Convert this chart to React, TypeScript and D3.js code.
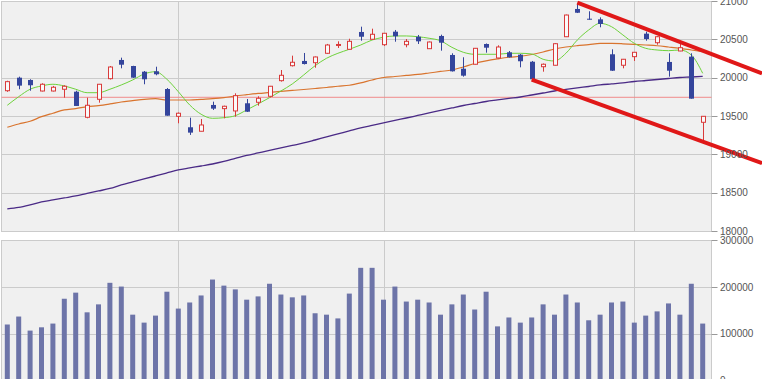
import React from "react";
import * as d3 from "d3";

const W = 762;
const H = 379;

// OHLC per trading day (62 days)
const opens = [19830,20000,19970,19826,19826,19849,19817,19483,19718,19987,20231,20152,20078,20083,19852,19496,19353,19301,19644,19596,19566,19666,19679,19757,19961,20156,20218,20195,20318,20428,20370,20596,20501,20430,20600,20430,20534,20378,20544,20296,20117,20175,20439,20257,20331,20300,20208,20143,20162,20534,20896,20769,20761,20305,20162,20274,20574,20456,20205,20348,20274,19418];
const highs = [19960,20013,19979,19927,19892,19901,19830,19739,19918,20152,20261,20155,20087,20143,19865,19546,19478,19461,19687,19635,19796,19722,19757,19892,20100,20287,20322,20276,20440,20474,20508,20665,20639,20583,20622,20504,20557,20472,20561,20318,20266,20387,20446,20422,20348,20309,20218,20185,20452,20823,20970,20866,20787,20370,20244,20335,20600,20544,20318,20439,20318,19500];
const lows = [19815,19849,19830,19820,19820,19739,19631,19470,19674,19976,20122,19998,19914,20031,19504,19405,19253,19301,19579,19470,19491,19552,19635,19744,19948,20146,20172,20130,20309,20387,20367,20482,20498,20413,20469,20396,20439,20374,20352,20080,20013,20172,20326,20250,20262,20135,19975,20078,20159,20530,20843,20757,20657,20087,20122,20218,20482,20430,20013,20345,19726,19135];
const closes = [19948,19896,19901,19914,19875,19888,19631,19640,19914,20139,20169,20000,19979,20044,19504,19536,19283,19383,19596,19627,19765,19556,19731,19888,20031,20201,20178,20270,20426,20433,20474,20534,20566,20579,20540,20474,20474,20465,20456,20083,20026,20383,20391,20400,20266,20214,19979,20175,20443,20817,20847,20761,20700,20091,20240,20331,20504,20534,20091,20391,19726,19496];

const volumes = [120000,137000,107000,114000,122000,175000,188000,146000,163000,209000,201000,141000,124000,139000,190000,154000,167000,182000,216000,203000,195000,173000,180000,207000,184000,178000,182000,144000,141000,133000,186000,241000,241000,173000,201000,169000,173000,167000,141000,163000,184000,152000,190000,116000,135000,124000,135000,163000,141000,184000,167000,129000,141000,167000,169000,124000,139000,148000,165000,141000,207000,122000];

// moving averages
const maShort = [19640,19752,19849,19892,19914,19892,19849,19804,19804,19849,19905,19970,20048,20078,19979,19817,19644,19523,19470,19478,19504,19579,19657,19739,19826,19918,20035,20156,20253,20318,20370,20426,20491,20527,20544,20544,20534,20514,20482,20396,20331,20305,20305,20305,20318,20318,20309,20240,20218,20318,20491,20622,20709,20665,20557,20448,20383,20361,20352,20361,20296,20057];
const maMid = [19353,19396,19431,19491,19536,19579,19596,19622,19635,19657,19683,19700,19718,19726,19709,19709,19709,19718,19726,19739,19761,19778,19794,19807,19820,19833,19846,19859,19872,19888,19901,19931,19970,20002,20015,20029,20042,20061,20081,20100,20139,20185,20218,20244,20266,20279,20302,20335,20374,20400,20417,20430,20446,20446,20442,20435,20426,20416,20400,20383,20361,20339];
const maLong = [18288,18307,18340,18379,18405,18431,18457,18490,18522,18555,18601,18640,18679,18718,18757,18796,18822,18848,18874,18907,18946,18985,19018,19051,19083,19116,19148,19187,19227,19266,19305,19344,19377,19409,19442,19474,19507,19540,19572,19605,19637,19663,19689,19709,19729,19748,19774,19800,19826,19846,19866,19885,19905,19918,19931,19950,19963,19976,19989,20002,20009,20018];

const refPrice = [19744];
const monthStarts = [15, 33, 55];
const priceTicks = [18000, 18500, 19000, 19500, 20000, 20500, 21000];
const volumeTicks = [0, 100000, 200000, 300000];

// trend channel: [startIndex, startPrice, endIndex, endPrice]
const trendUpper = [50, 20978, 66.2, 20057];
const trendLower = [46, 19975, 66.2, 18884];

export default function App() {
  const plotL = 1.5, plotR = 711.5;
  const pTop = 1.5, pBot = 231.5;
  const vTop = 240.5, vBot = 380.7;

  const x = d3.scaleLinear().domain([0, closes.length - 1]).range([7.3, 702.7]);
  const y = d3.scaleLinear().domain([18000, 21000]).range([pBot - 0.5, pTop - 0.5]);
  const yv = d3.scaleLinear().domain([0, 300000]).range([vBot, vTop - 0.3]);

  const line = (vals: number[]) =>
    d3.line<number>().x((_, i) => x(i)).y((v) => y(v)).curve(d3.curveMonotoneX)(vals) || "";

  const bodyW = 5;
  const up = "#d93a3a";
  const down = "#34459c";
  const grid = "#cbcbcb";
  const bg = "#f0f0f0";
  const font = "'Liberation Sans', Arial, sans-serif";

  return (
    <svg width={W} height={H} style={{ position: "absolute", left: 0, top: 0, background: "#fff" }}>
      {/* price panel */}
      <rect x={plotL} y={pTop} width={plotR - plotL} height={pBot - pTop} fill={bg} stroke="none" />
      {priceTicks.map((t) => (
        <line key={"pg" + t} x1={plotL} x2={plotR} y1={Math.round(y(t)) + 0.5} y2={Math.round(y(t)) + 0.5} stroke={grid} />
      ))}
      {monthStarts.map((m) => (
        <line key={"pv" + m} x1={Math.round(x(m)) + 0.5} x2={Math.round(x(m)) + 0.5} y1={pTop} y2={pBot} stroke={grid} />
      ))}
      <rect x={plotL} y={pTop} width={plotR - plotL} height={pBot - pTop} fill="none" stroke={grid} />

      {/* volume panel */}
      <rect x={plotL} y={vTop} width={plotR - plotL} height={H - vTop + 5} fill={bg} stroke={grid} />
      {volumeTicks.map((t) => (
        <line key={"vg" + t} x1={plotL} x2={plotR} y1={Math.round(yv(t)) + 0.5} y2={Math.round(yv(t)) + 0.5} stroke={grid} />
      ))}
      {monthStarts.map((m) => (
        <line key={"vv" + m} x1={Math.round(x(m)) + 0.5} x2={Math.round(x(m)) + 0.5} y1={vTop} y2={H} stroke={grid} />
      ))}
      {volumes.map((v, i) => (
        <rect key={"vb" + i} x={x(i) - 2.5} y={yv(v)} width={5} height={vBot - yv(v) + 5} fill="#6d74a8" />
      ))}

      {/* reference horizontal line */}
      {refPrice.map((p) => (
        <line key={"ref" + p} x1={plotL} x2={plotR} y1={y(p)} y2={y(p)} stroke="#f08a8a" strokeWidth={1} />
      ))}

      {/* moving averages */}
      <path d={line(maLong)} fill="none" stroke="#4a2a86" strokeWidth={1.3} />
      <path d={line(maMid)} fill="none" stroke="#d9742e" strokeWidth={1.2} />
      <path d={line(maShort)} fill="none" stroke="#6fd23c" strokeWidth={1} />

      {/* candles */}
      {closes.map((c, i) => {
        const o = opens[i];
        const isUp = c >= o;
        const col = isUp ? up : down;
        const cx = Math.round(x(i)) + 0.5;
        const top = y(Math.max(o, c));
        const bot = y(Math.min(o, c));
        const h = Math.max(bot - top, 1);
        return (
          <g key={"c" + i}>
            <line x1={cx} x2={cx} y1={y(highs[i])} y2={y(lows[i])} stroke={col} strokeWidth={1} />
            {isUp ? (
              <rect x={cx - 2} y={top} width={bodyW - 1} height={h} fill="#fafafa" stroke={col} strokeWidth={1} />
            ) : (
              <rect x={cx - 2.5} y={top} width={bodyW} height={h} fill={col} />
            )}
          </g>
        );
      })}

      {/* trend channel */}
      {[trendUpper, trendLower].map((t, k) => (
        <line key={"tr" + k} x1={x(t[0])} y1={y(t[1])} x2={x(t[2])} y2={y(t[3])} stroke="#e01818" strokeWidth={4} />
      ))}

      {/* price axis */}
      {priceTicks.map((t) => (
        <g key={"pl" + t}>
          <line x1={plotR} x2={plotR + 6} y1={Math.round(y(t)) + 0.5} y2={Math.round(y(t)) + 0.5} stroke="#999" />
          <text x={720} y={y(t)} dy="0.35em" fontSize={10} fontFamily={font} fill="#555">{t}</text>
        </g>
      ))}
      {/* volume axis */}
      {volumeTicks.map((t) => (
        <g key={"vl" + t}>
          <line x1={plotR} x2={plotR + 6} y1={Math.round(yv(t)) + 0.5} y2={Math.round(yv(t)) + 0.5} stroke="#999" />
          <text x={720} y={yv(t)} dy="0.35em" fontSize={10} fontFamily={font} fill="#555">{t}</text>
        </g>
      ))}
    </svg>
  );
}
